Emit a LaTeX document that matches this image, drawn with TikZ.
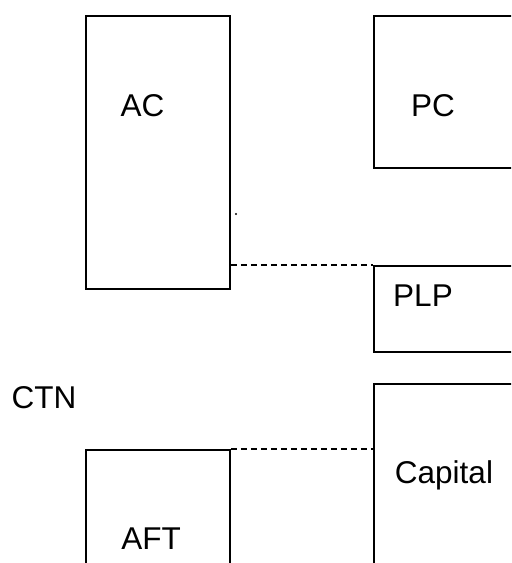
\documentclass[tikz,border=0pt]{standalone}
\usepackage{fontspec}
\setmainfont{Liberation Sans}
\usetikzlibrary{positioning,calc}

\tikzset{
    box/.style={draw, line width=0.9pt, inner sep=0pt, anchor=north west},
    lbl/.style={anchor=base, font=\fontsize{15.75}{18}\selectfont},
    link/.style={line width=0.7pt, dash pattern=on 3pt off 2pt}
}

\begin{document}
\begin{tikzpicture}[x=0.5pt, y=-0.5pt]
    \clip (0, 0) rectangle (511, 563);

    % Boxes
    \node[box, minimum width=72pt, minimum height=136.5pt] (ac) at (85, 15) {};
    \node[box, minimum width=80pt, minimum height=76pt] (pc) at (373, 15) {};
    \node[box, minimum width=80pt, minimum height=43pt] (plp) at (373, 265) {};
    \node[box, minimum width=80pt, minimum height=110pt] (capital) at (373, 383) {};
    \node[box, minimum width=72pt, minimum height=75pt] (aft) at (85, 449) {};

    % Labels
    \node[lbl] (aclbl) at (142.5, 116) {AC};
    \node[lbl] (pclbl) at (433, 116) {PC};
    \node[lbl] (plplbl) at (423, 306) {PLP};
    \node[lbl] (capitallbl) at (444, 483) {Capital};
    \node[lbl] (aftlbl) at (151, 549) {AFT};
    \node[lbl] (ctn) at (44, 408) {CTN};

    % Dashed links
    \draw[link] (ac.east |- plp.north west) -- (plp.north west);
    \draw[link] (aft.north east) -- (capital.west |- aft.north east);

    \fill (236, 214) circle (0.6pt);
\end{tikzpicture}
\end{document}
